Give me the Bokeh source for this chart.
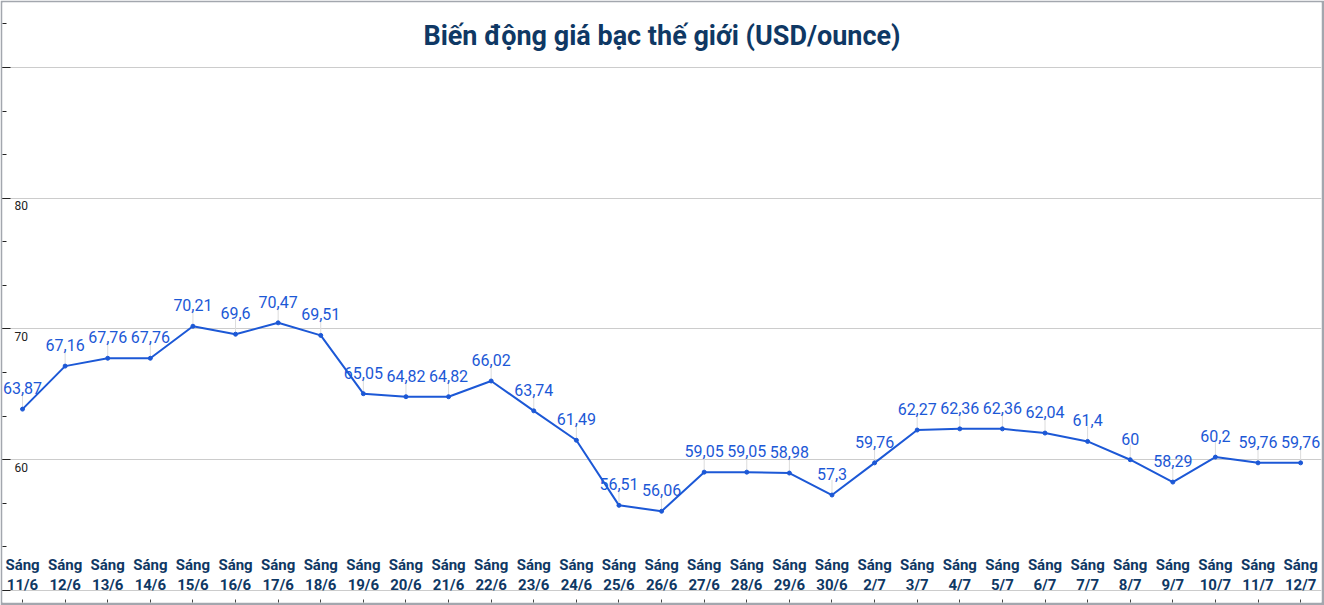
import numpy as np
from bokeh.plotting import figure
from bokeh.models import FixedTicker, ColumnDataSource, Range1d
from bokeh.core.properties import value
from bokeh.embed import file_html
from bokeh.resources import INLINE

title_text = "Biến động giá bạc thế giới (USD/ounce)"
dates = ["11/6", "12/6", "13/6", "14/6", "15/6", "16/6", "17/6", "18/6", "19/6", "20/6",
         "21/6", "22/6", "23/6", "24/6", "25/6", "26/6", "27/6", "28/6", "29/6", "30/6",
         "2/7", "3/7", "4/7", "5/7", "6/7", "7/7", "8/7", "9/7", "10/7", "11/7", "12/7"]
prices = [63.87, 67.16, 67.76, 67.76, 70.21, 69.6, 70.47, 69.51, 65.05, 64.82,
          64.82, 66.02, 63.74, 61.49, 56.51, 56.06, 59.05, 59.05, 58.98, 57.3,
          59.76, 62.27, 62.36, 62.36, 62.04, 61.4, 60, 58.29, 60.2, 59.76, 59.76]
y_major = [50, 60, 70, 80, 90]
y_labels = [60, 70, 80]

X_START, X_END = -0.47, 30.49
Y_START, Y_END = 49.08, 94.97

BLUE = "#1c58d6"
NAVY = "#0f3864"

xs = list(range(len(prices)))
cat_labels = ["Sáng\n" + d for d in dates]
val_labels = [("%g" % v).replace(".", ",") for v in prices]

src = ColumnDataSource(dict(x=xs, y=prices, lab=val_labels, cat=cat_labels,
                            base=[Y_START] * len(xs)))

p = figure(width=1324, height=605, output_backend="svg", toolbar_location=None,
           x_range=Range1d(X_START, X_END), y_range=Range1d(Y_START, Y_END),
           min_border_left=2, min_border_top=2, min_border_right=3, min_border_bottom=3,
           border_fill_color="#a3a7ae", background_fill_color="white",
           outline_line_color=None)

# axes with ticks pointing inside (labels drawn separately inside the frame)
minor_y = list(np.arange(50, 95, 10 / 3))
p.yaxis.ticker = FixedTicker(ticks=y_major, minor_ticks=minor_y)
p.yaxis.major_tick_in = 8
p.yaxis.major_tick_out = 0
p.yaxis.minor_tick_in = 4
p.yaxis.minor_tick_out = 0
p.yaxis.major_tick_line_color = "#222222"
p.yaxis.minor_tick_line_color = "#222222"
p.yaxis.axis_line_color = None
p.yaxis.major_label_overrides = {v: "" for v in y_major}
p.yaxis.major_label_text_font_size = "1px"
p.yaxis.major_label_standoff = 0

p.xaxis.ticker = FixedTicker(ticks=xs, minor_ticks=[])
p.xaxis.major_tick_in = 3
p.xaxis.major_tick_out = 0
p.xaxis.major_tick_line_color = "#444444"
p.xaxis.axis_line_color = None
p.xaxis.major_label_overrides = {v: "" for v in xs}
p.xaxis.major_label_text_font_size = "1px"
p.xaxis.major_label_standoff = 0

p.xgrid.grid_line_color = None
p.ygrid.ticker = FixedTicker(ticks=y_major)
p.ygrid.grid_line_color = "#cccccc"
p.ygrid.grid_line_width = 1

# title
p.text(x=[(X_START + X_END) / 2], y=[Y_END], text=[title_text], text_align="center",
       text_baseline="middle", y_offset=33, text_font=value("Roboto"),
       text_font_style="bold", text_font_size="27px", text_color=NAVY)

# y tick labels inside
p.text(x=[X_START] * len(y_labels), y=y_labels, text=[str(v) for v in y_labels],
       x_offset=12, y_offset=3, text_align="left", text_baseline="top",
       text_font=value("Roboto"), text_font_size="12px", text_color="#222222")

# category labels
p.text(x="x", y="base", text="cat", source=src, text_align="center",
       text_baseline="bottom", y_offset=-8, text_font=value("Roboto"),
       text_font_style="bold", text_font_size="15px", text_color=NAVY,
       text_line_height=1.15)

# leader lines
p.ray(x="x", y="y", source=src, length=15, length_units="screen", angle=np.pi / 2,
      line_color="#dcdcdc", line_width=1)

# line + markers
p.line(x="x", y="y", source=src, line_color=BLUE, line_width=2)
p.scatter(x="x", y="y", source=src, size=4, fill_color=BLUE, line_color=BLUE)

# value labels
p.text(x="x", y="y", text="lab", source=src, text_align="center",
       text_baseline="bottom", y_offset=-15, text_font=value("Roboto"),
       text_font_size="16px", text_color=BLUE)

open("out.html", "w").write(file_html(p, INLINE))
